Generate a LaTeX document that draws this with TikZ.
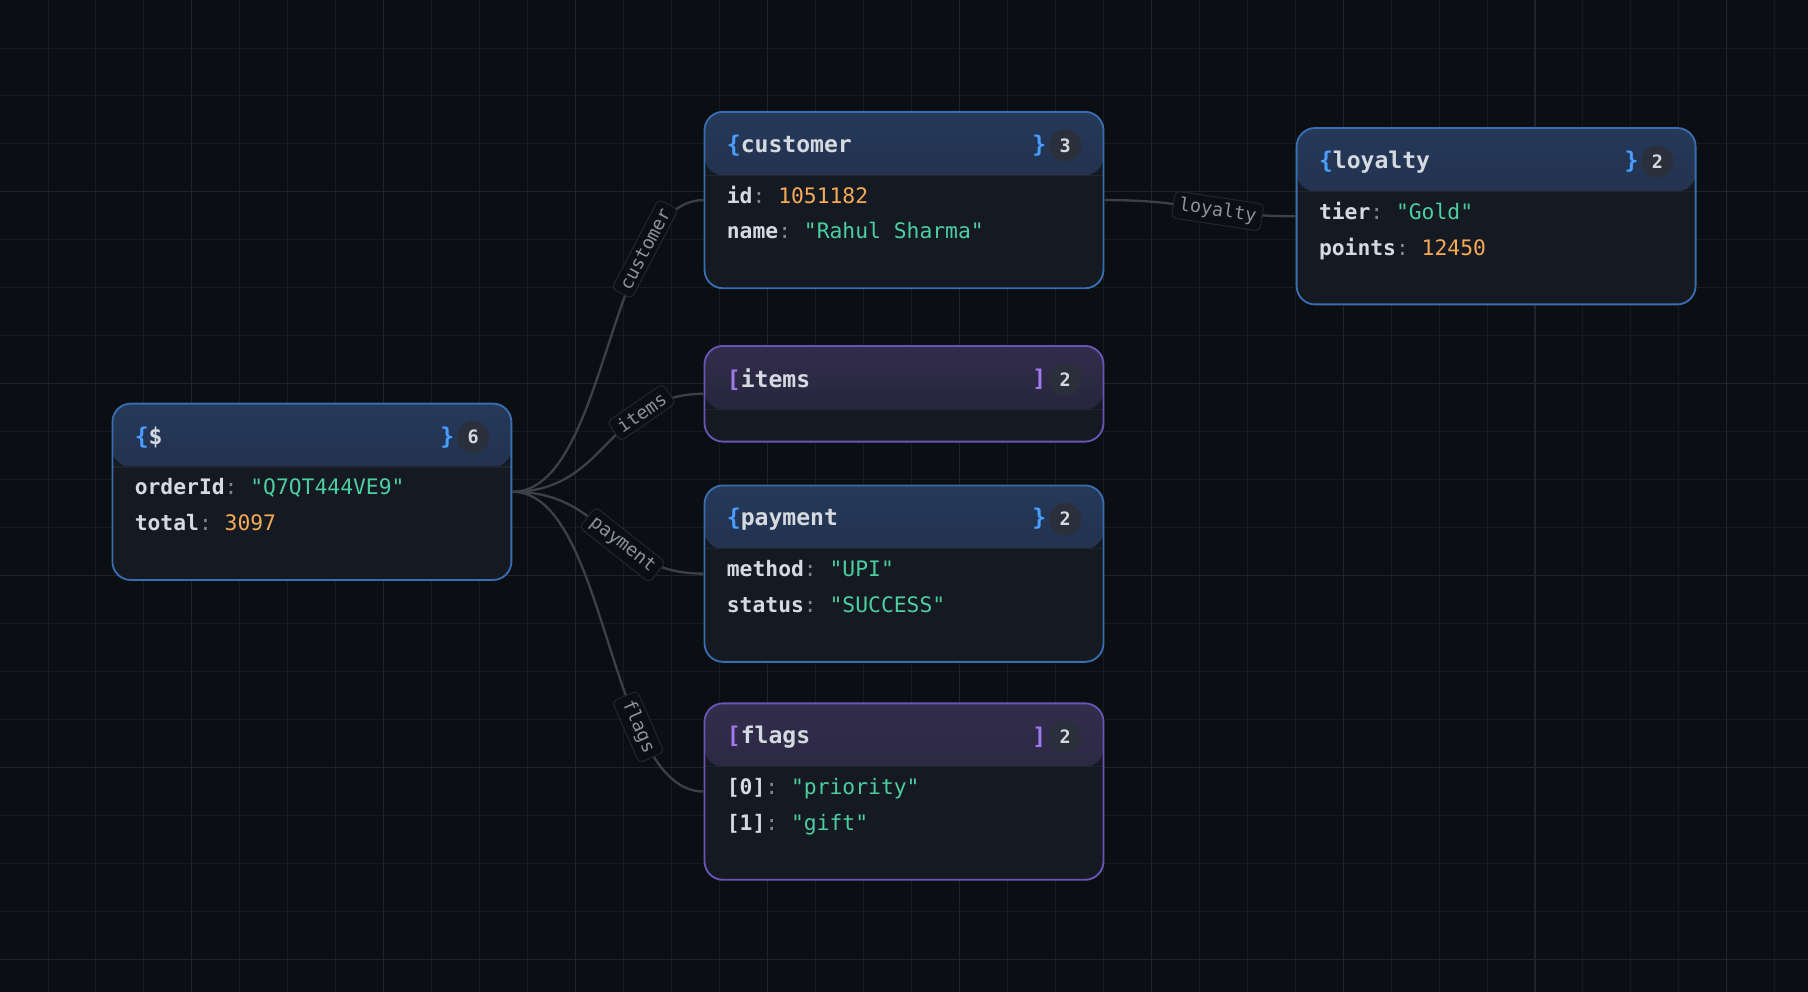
\documentclass[tikz,border=0pt]{standalone}
\usepackage{fontspec}
\setmonofont{DejaVu Sans Mono}
\usetikzlibrary{positioning}
\definecolor{bg}{HTML}{0B0E13}
\definecolor{gridminor}{HTML}{161A21}
\definecolor{gridmajor}{HTML}{20252D}
\definecolor{boxfill}{HTML}{141922}
\definecolor{objline}{HTML}{3A6DAE}
\definecolor{arrline}{HTML}{6A55B5}
\definecolor{objhead}{HTML}{26395A}
\definecolor{arrhead}{HTML}{322D4C}
\definecolor{keycol}{HTML}{D5D9E0}
\definecolor{colon}{HTML}{7D8590}
\definecolor{strcol}{HTML}{4CCFA0}
\definecolor{numcol}{HTML}{F5AA55}
\definecolor{brace}{HTML}{4A9EFF}
\definecolor{brack}{HTML}{9F7AEA}
\definecolor{badge}{HTML}{2A303B}
\definecolor{edgecol}{HTML}{3C4049}
\definecolor{labtext}{HTML}{8B929C}
\newcommand{\rowkey}[1]{{\color{keycol}\bfseries #1}{\color{colon}:} }
\newcommand{\str}[1]{{\color{strcol}"#1"}}
\newcommand{\num}[1]{{\color{numcol}#1}}
\tikzset{
  card/.style={draw=#1,line width=1.6pt,fill=boxfill,rounded corners=16pt,
    minimum width=346pt,inner sep=0pt},
  objcard/.style={card=objline,path picture={
    \fill[top color=objhead,bottom color=objhead!45!boxfill]
      (path picture bounding box.north west) rectangle ([yshift=-55pt]path picture bounding box.north east);
    \draw[gridmajor,line width=1pt] ([yshift=-55pt]path picture bounding box.north west) -- ([yshift=-55pt]path picture bounding box.north east);}},
  arrcard/.style={card=arrline,path picture={
    \fill[top color=arrhead,bottom color=arrhead!45!boxfill]
      (path picture bounding box.north west) rectangle ([yshift=-55pt]path picture bounding box.north east);
    \draw[gridmajor,line width=1pt] ([yshift=-55pt]path picture bounding box.north west) -- ([yshift=-55pt]path picture bounding box.north east);}},
  head/.style={anchor=west,font=\fontsize{20}{24}\ttfamily\bfseries,text=keycol,inner sep=0pt},
  row/.style={anchor=base west,font=\fontsize{18.5}{22}\ttfamily,inner sep=0pt},
  count/.style={circle,fill=badge,minimum size=28pt,inner sep=0pt,text=keycol,
    font=\fontsize{16}{18}\ttfamily\bfseries},
  link/.style={draw=edgecol,line width=2pt},
  tag/.style={sloped,fill=bg,draw=gridmajor,rounded corners=4pt,line width=1pt,text=labtext,
    inner xsep=5pt,inner ysep=4pt,font=\fontsize{16}{18}\ttfamily}
}
\begin{document}
\begin{tikzpicture}[x=1pt,y=-1pt]
\fill[bg] (0,0) rectangle (1568,860);
\useasboundingbox (0,0) rectangle (1568,860);
\foreach \i in {1,...,37} \draw[gridminor,line width=0.8pt] (41.6*\i,0) -- (41.6*\i,860);
\foreach \i in {1,...,20} \draw[gridminor,line width=0.8pt] (0,41.6*\i) -- (1568,41.6*\i);
\foreach \i in {1,...,9} \draw[gridmajor,line width=1pt] (166.4*\i,0) -- (166.4*\i,860);
\foreach \i in {1,...,5} \draw[gridmajor,line width=1pt] (0,166.4*\i) -- (1568,166.4*\i);
% cards
\node[objcard,minimum height=153pt] (root) at (270.5,426.5) {};
\node[objcard,minimum height=153pt] (customer) at (784,173.5) {};
\node[arrcard,minimum height=83pt] (items) at (784,341.5) {};
\node[objcard,minimum height=153pt] (payment) at (784,497.5) {};
\node[arrcard,minimum height=153pt] (flags) at (784,686.5) {};
\node[objcard,minimum height=153pt] (loyalty) at (1297.5,187.5) {};
% headers
\foreach \card/\name/\open/\close/\col/\n in {root/\$/\{/\}/brace/6,customer/customer/\{/\}/brace/3,
  items/items/[/]/brack/2,payment/payment/\{/\}/brace/2,flags/flags/[/]/brack/2,loyalty/loyalty/\{/\}/brace/2}{
  \node[head] (\card-title) at ([xshift=20pt,yshift=-30pt]\card.north west) {{\color{\col}\open}\name};
  \node[count] (\card-count) at ([xshift=-34pt,yshift=-30pt]\card.north east) {\n};
  \node[head,anchor=east,text=\col] (\card-close) at ([xshift=-2pt]\card-count.west) {\close};
}
% rows
\node[row] (root-r1) at ([xshift=20pt,yshift=-80pt]root.north west) {\rowkey{orderId}\str{Q7QT444VE9}};
\node[row] (root-r2) at ([yshift=-31pt]root-r1.base west) {\rowkey{total}\num{3097}};
\node[row] (customer-r1) at ([xshift=20pt,yshift=-80pt]customer.north west) {\rowkey{id}\num{1051182}};
\node[row] (customer-r2) at ([yshift=-31pt]customer-r1.base west) {\rowkey{name}\str{Rahul Sharma}};
\node[row] (payment-r1) at ([xshift=20pt,yshift=-80pt]payment.north west) {\rowkey{method}\str{UPI}};
\node[row] (payment-r2) at ([yshift=-31pt]payment-r1.base west) {\rowkey{status}\str{SUCCESS}};
\node[row] (flags-r1) at ([xshift=20pt,yshift=-80pt]flags.north west) {\rowkey{[0]}\str{priority}};
\node[row] (flags-r2) at ([yshift=-31pt]flags-r1.base west) {\rowkey{[1]}\str{gift}};
\node[row] (loyalty-r1) at ([xshift=20pt,yshift=-80pt]loyalty.north west) {\rowkey{tier}\str{Gold}};
\node[row] (loyalty-r2) at ([yshift=-31pt]loyalty-r1.base west) {\rowkey{points}\num{12450}};
% links
\path[link] (root.east) .. controls +(83,0) and +(-83,0) .. (customer.west) node[tag,pos=0.74] {customer};
\path[link] (root.east) .. controls +(83,0) and +(-83,0) .. (items.west) node[tag,pos=0.72] {items};
\path[link] (root.east) .. controls +(83,0) and +(-83,0) .. (payment.west) node[tag,pos=0.6] {payment};
\path[link] (root.east) .. controls +(83,0) and +(-83,0) .. (flags.west) node[tag,pos=0.7] {flags};
\path[link] (customer.east) .. controls +(83,0) and +(-83,0) .. (loyalty.west) node[tag,pos=0.62] {loyalty};
\end{tikzpicture}
\end{document}
